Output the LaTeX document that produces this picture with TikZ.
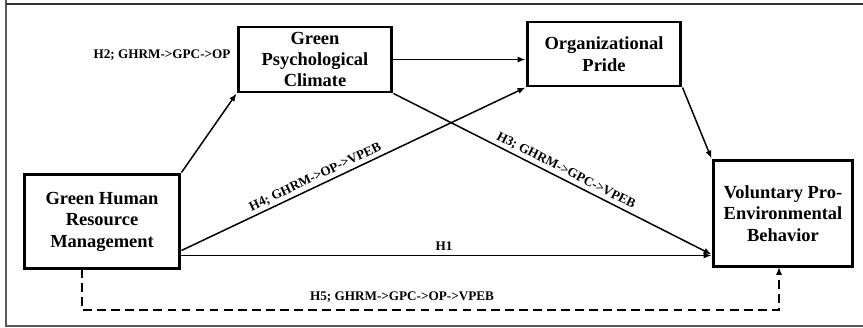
\documentclass[tikz,border=0pt]{standalone}
\usepackage{fontspec}
\setmainfont{Liberation Serif}
\usetikzlibrary{arrows.meta, positioning, calc}

\begin{document}
\begin{tikzpicture}[
    x=0.02cm, y=-0.02cm,
    >={Latex[length=4.5pt, width=3.5pt]},
    var/.style={draw, line width=1.7pt, align=center, inner sep=2pt,
                font=\fontsize{10.5}{12.2}\selectfont\bfseries},
    path/.style={->, line width=0.85pt},
    hyp/.style={font=\fontsize{7.5}{9}\selectfont\bfseries, inner sep=1.5pt},
]
  \useasboundingbox (0,0) rectangle (863,328);
  \draw[line width=1.1pt, black!65] (6,-10) -- (6,326) -- (875,326);
  \draw[line width=1.1pt, black!80] (6,4) -- (875,4);

  \node[var, minimum width=3.08cm, minimum height=1.3cm] (gpc) at (315,59.5) {Green\\Psychological\\Climate};
  \node[var, minimum width=3.08cm, minimum height=1.28cm] (op) at (604,54) {Organizational\\Pride};
  \node[var, minimum width=3.12cm, minimum height=1.9cm] (ghrm) at (102,221.5) {Green Human\\Resource\\Management};
  \node[var, minimum width=2.8cm, minimum height=2.14cm] (vpeb) at (783,213.5) {Voluntary Pro-\\Environmental\\Behavior};

  \coordinate (h4s) at ($(ghrm.south east)+(0,-20)$);
  \coordinate (h1s) at ($(ghrm.south east)+(0,-15)$);
  \coordinate (h3e) at ($(vpeb.south west)+(0,-14)$);
  \coordinate (h5a) at (82,269);
  \coordinate (h5b) at (82,310);
  \coordinate (h5c) at (779,310);
  \coordinate (h5d) at (779,267);

  \draw[path] (ghrm.north east) -- (gpc.south west);
  \draw[path] (gpc.east) -- (gpc.east -| op.west);
  \draw[path] (h4s) -- node[hyp, sloped, above, pos=0.4] {H4; GHRM->OP->VPEB} (op.south west);
  \draw[path] (gpc.south east) -- node[hyp, sloped, above, pos=0.53] {H3; GHRM->GPC->VPEB} (h3e);
  \draw[path] (op.south east) -- (vpeb.north west);
  \draw[path] (h1s) -- (h1s -| vpeb.west);
  \draw[path, dashed, line width=0.75pt, dash pattern=on 5pt off 3pt] (h5a) -- (h5b) -- (h5c) -- (h5d);

  \node[hyp] (h2) at (162,55) {H2; GHRM->GPC->OP};
  \node[hyp] (h1) at (444,246) {H1};
  \node[hyp] (h5) at (402,297) {H5; GHRM->GPC->OP->VPEB};
\end{tikzpicture}
\end{document}
